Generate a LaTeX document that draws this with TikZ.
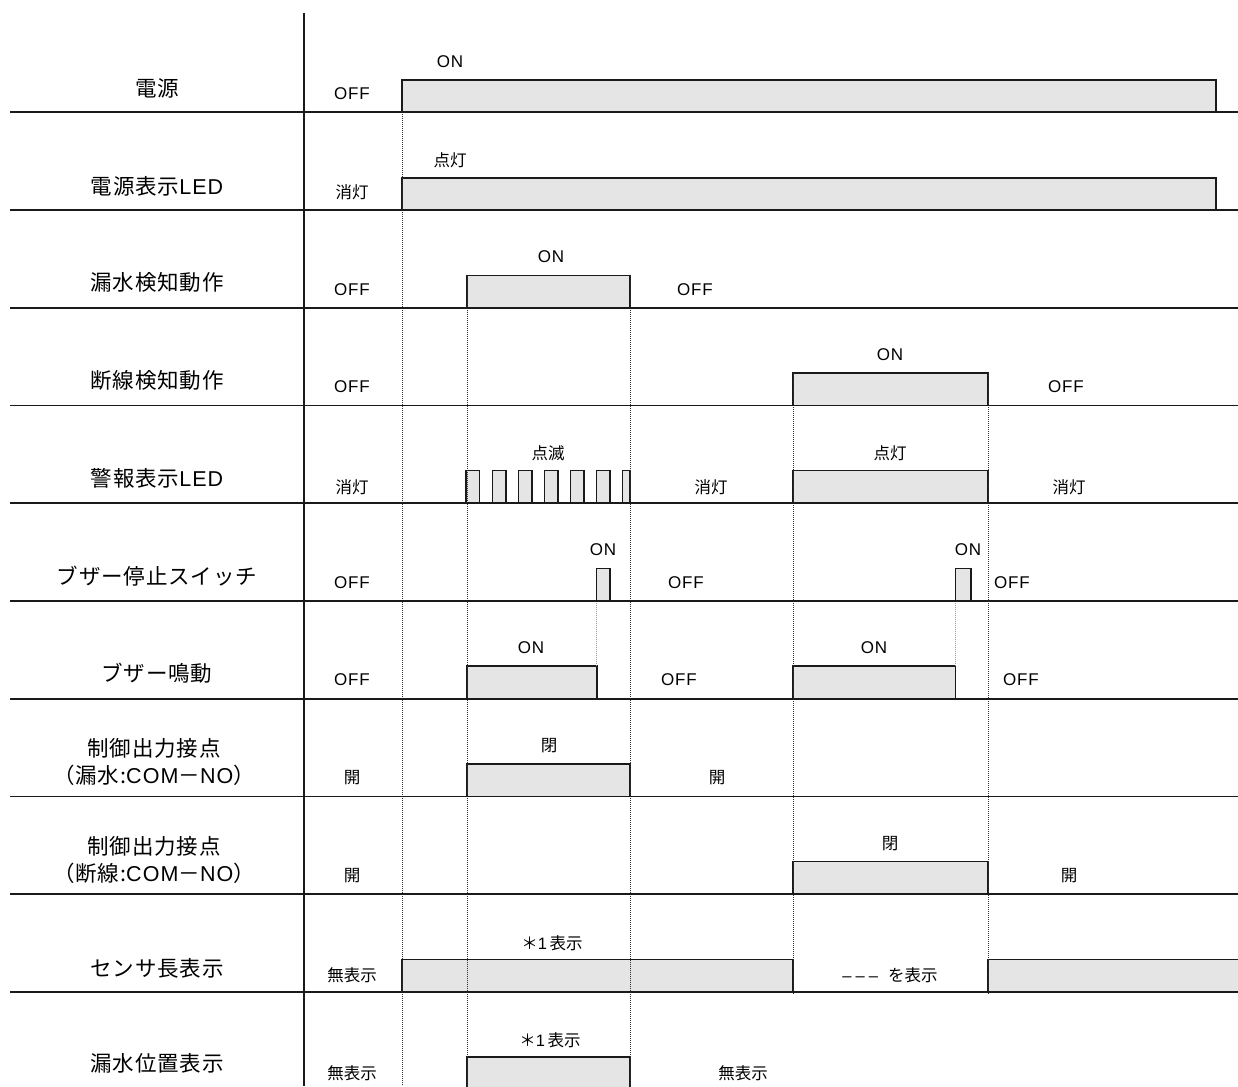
\documentclass[tikz,border=0pt]{standalone}
\usepackage{fontspec}
\setmainfont{Liberation Sans}
\newfontfamily\jp{Noto Sans CJK JP}
\newfontfamily\jpwide[LetterSpace=4]{Noto Sans CJK JP}
\newfontfamily\latwide[LetterSpace=5]{Liberation Sans}
\definecolor{barfill}{HTML}{E5E5E5}
\definecolor{linec}{HTML}{1A1A1A}
\definecolor{guidec}{HTML}{333333}
\definecolor{guidelt}{HTML}{999999}
\tikzset{
  lbl/.style={font=\jpwide\fontsize{21.5}{27}\selectfont, align=center, inner sep=0pt},
  st/.style={font=\latwide\fontsize{17}{20}\selectfont, inner sep=0pt},
  sj/.style={font=\jp\fontsize{16.5}{20}\selectfont, inner sep=0pt},
  bar/.style={fill=barfill, draw=linec, line width=1.5pt},
  rowline/.style={draw=linec, line width=1.6pt},
  guide/.style={draw=guidec, line width=0.7pt, dash pattern=on 1pt off 1pt},
  guidelight/.style={draw=guidelt, line width=0.7pt, dash pattern=on 1pt off 1pt},
}
\begin{document}
\begin{tikzpicture}[x=1pt,y=-1pt]
\useasboundingbox (0,0) rectangle (1238,1086);
% ---- bars ----
\draw[bar] (402,112) rectangle (1216,80);
\draw[bar] (402,210) rectangle (1216,178);
\draw[bar] (467,308) rectangle (630,275.5);
\draw[bar] (793,405.5) rectangle (988,373);
\foreach \x in {466,492.7,518.7,544.7,570.7,596.7}{
  \draw[bar] (\x,503) rectangle (\x+13.3,470.5);
}
\draw[bar] (622.7,503) rectangle (630,470.5);
\draw[bar] (793,503) rectangle (988,470.5);
\draw[bar] (596.7,601) rectangle (610,568.5);
\draw[bar] (955.5,601) rectangle (971,568.5);
\draw[bar] (467,699) rectangle (597,666);
\draw[bar] (793,699) rectangle (955.5,666);
\draw[bar] (467,796.5) rectangle (630,764);
\draw[bar] (793,894) rectangle (988,861.5);
\draw[bar] (402,992) rectangle (793,959.5);
\fill[barfill] (988,992) rectangle (1238,959.5);
\draw[linec, line width=1.5pt] (988,992) -- (988,959.5) -- (1240,959.5);
\draw[bar] (467,1090) rectangle (630,1057);
% ---- guides ----
\draw[guide] (402,112) -- (402,1086);
\draw[guide] (467,275.5) -- (467,1086);
\draw[guide] (630,275.5) -- (630,1086);
\draw[guide] (793,373) -- (793,995);
\draw[guide] (988,373) -- (988,995);
\draw[guidelight] (596.7,601) -- (596.7,666);
\draw[guidelight] (955.5,601) -- (955.5,666);
% ---- row lines ----
\foreach \y in {112,210,308,405.5,503,601,699,796.5,894,992}{
  \draw[rowline] (10,\y) -- (1238,\y);
}
\draw[rowline] (304,13) -- (304,1086);
% ---- left labels ----
\node[lbl] (l1) at (157,88) {電源};
\node[lbl] (l2) at (157,186) {電源表示{\latwide LED}};
\node[lbl] (l3) at (157,282) {漏水検知動作};
\node[lbl] (l4) at (157,380) {断線検知動作};
\node[lbl] (l5) at (157,478) {警報表示{\latwide LED}};
\node[lbl] (l6) at (157,576) {ブザー停止スイッチ};
\node[lbl] (l7) at (157,673) {ブザー鳴動};
\node[lbl] (l8) at (154,762) {制御出力接点\\（漏水:{\latwide COM}－{\latwide NO}）};
\node[lbl] (l9) at (154,860) {制御出力接点\\（断線:{\latwide COM}－{\latwide NO}）};
\node[lbl] (l10) at (157,968) {センサ長表示};
\node[lbl] (l11) at (157,1063) {漏水位置表示};
% ---- state labels ----
\node[st] (a1) at (450,62) {ON};
\node[st] (a2) at (352,94) {OFF};
\node[sj] (b1) at (450,160) {点灯};
\node[sj] (b2) at (352,192) {消灯};
\node[st] (c1) at (551,257) {ON};
\node[st] (c2) at (352,290) {OFF};
\node[st] (c3) at (695,290) {OFF};
\node[st] (d1) at (890,355) {ON};
\node[st] (d2) at (352,387) {OFF};
\node[st] (d3) at (1066,387) {OFF};
\node[sj] (e1) at (548,453) {点滅};
\node[sj] (e2) at (352,487) {消灯};
\node[sj] (e3) at (711,487) {消灯};
\node[sj] (e4) at (890,453) {点灯};
\node[sj] (e5) at (1069,487) {消灯};
\node[st] (f1) at (603,550) {ON};
\node[st] (f2) at (352,583) {OFF};
\node[st] (f3) at (686,583) {OFF};
\node[st] (f4) at (968,550) {ON};
\node[st] (f5) at (1012,583) {OFF};
\node[st] (g1) at (531,648) {ON};
\node[st] (g2) at (352,680) {OFF};
\node[st] (g3) at (679,680) {OFF};
\node[st] (g4) at (874,648) {ON};
\node[st] (g5) at (1021,680) {OFF};
\node[sj] (h1) at (549,746) {閉};
\node[sj] (h2) at (352,778) {開};
\node[sj] (h3) at (717,778) {開};
\node[sj] (i1) at (890,844) {閉};
\node[sj] (i2) at (352,876) {開};
\node[sj] (i3) at (1069,876) {開};
\node[sj] (j1) at (552,943) {＊{\rmfamily 1}\,表示};
\node[sj] (j2) at (352,975) {無表示};
\node[sj] (j3) at (890,975) {{\rmfamily –\hspace{4pt}–\hspace{4pt}–}\hspace{10pt}を表示};
\node[sj] (k1) at (550,1040) {＊{\rmfamily 1}\,表示};
\node[sj] (k2) at (352,1073) {無表示};
\node[sj] (k3) at (743,1073) {無表示};
\end{tikzpicture}
\end{document}
